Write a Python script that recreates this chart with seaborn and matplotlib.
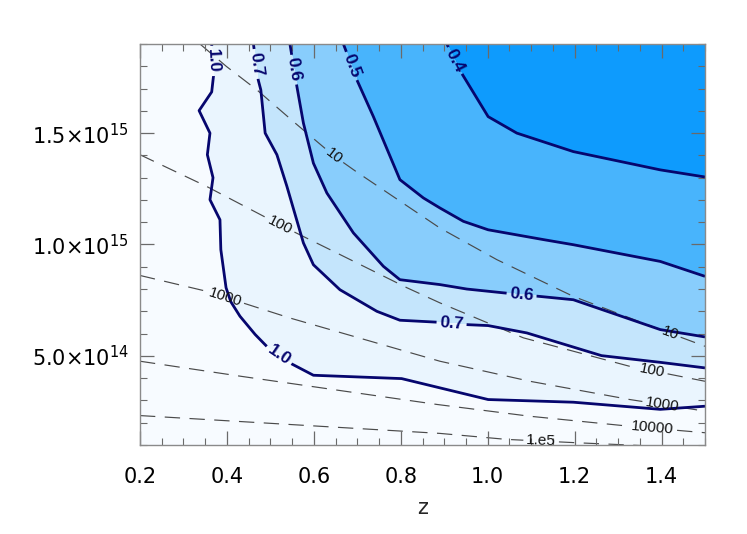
import numpy as np
import matplotlib
matplotlib.use("Agg")
import matplotlib.pyplot as plt
from matplotlib.contour import ContourSet
from matplotlib.ticker import FixedLocator, FixedFormatter, MultipleLocator
import seaborn as sns

# ---------------- data (z, mass in units of 1e14) ----------------
UNIT = 1e14
z_range = [0.2, 1.5]
m_range = [1.0, 19.0]

# solid contour paths
c10_z = [0.365, 0.369, 0.365, 0.336, 0.361, 0.355, 0.368, 0.361, 0.384, 0.386, 0.398,
         0.409, 0.430, 0.465, 0.495, 0.549, 0.599, 0.802, 1.001, 1.197, 1.397, 1.5]
c10_m = [19.0, 17.54, 16.85, 16.01, 15.0, 14.03, 13.0, 12.01, 11.11, 9.77, 8.06,
         7.43, 6.78, 5.96, 5.36, 4.64, 4.13, 3.98, 3.04, 2.92, 2.60, 2.74]
c07_z = [0.461, 0.472, 0.478, 0.488, 0.515, 0.538, 0.576, 0.599, 0.660, 0.745, 0.798,
         0.886, 0.955, 1.001, 1.090, 1.262, 1.397, 1.5]
c07_m = [19.0, 17.39, 16.94, 15.0, 14.03, 12.61, 10.07, 9.09, 7.97, 7.0, 6.60,
         6.51, 6.40, 6.36, 6.03, 5.01, 4.71, 4.46]
c06_z = [0.545, 0.561, 0.576, 0.599, 0.630, 0.691, 0.760, 0.798, 0.890, 0.952, 1.036,
         1.197, 1.397, 1.5]
c06_m = [19.0, 17.09, 15.45, 13.65, 12.31, 10.52, 9.02, 8.42, 8.20, 8.0, 7.83,
         7.52, 6.18, 5.85]
c05_z = [0.668, 0.699, 0.737, 0.798, 0.852, 0.890, 0.944, 1.001, 1.128, 1.197, 1.397, 1.5]
c05_m = [19.0, 17.39, 15.74, 12.91, 12.09, 11.64, 11.04, 10.66, 10.22, 9.99, 9.24, 8.57]
c04_z = [0.906, 0.940, 1.001, 1.067, 1.197, 1.397, 1.5]
c04_m = [19.0, 17.69, 15.74, 15.0, 14.17, 13.35, 13.03]

solid_levels = [0.4, 0.5, 0.6, 0.7, 1.0]
solid_labels = ["0.4", "0.5", "0.6", "0.7", "1.0"]
fill_bounds = [0.3, 0.4, 0.5, 0.6, 0.7, 1.0, 1.5]
fill_colors = ["#0E9BFD", "#48B4FC", "#88CDFC", "#C4E5FC", "#EAF5FE", "#F7FBFF"]

# dashed (number count) contour paths
n10_z = [0.338, 0.399, 0.469, 0.557, 0.646, 0.699, 0.890, 1.021, 1.197, 1.397, 1.5]
n10_m = [19.0, 17.99, 16.94, 15.45, 13.98, 13.25, 10.74, 9.32, 7.67, 6.18, 5.43]
n100_z = [0.2, 0.353, 0.492, 0.553, 0.660, 0.814, 0.890, 1.082, 1.327, 1.5]
n100_m = [14.03, 12.61, 11.19, 10.58, 9.55, 8.06, 7.38, 5.81, 4.53, 3.86]
n1000_z = [0.2, 0.353, 0.545, 0.890, 1.097, 1.327, 1.5]
n1000_m = [8.61, 7.90, 6.70, 4.76, 3.86, 3.04, 2.52]
n1e4_z = [0.2, 0.430, 0.883, 1.097, 1.327, 1.5]
n1e4_m = [4.76, 4.09, 2.82, 2.29, 1.84, 1.55]
n1e5_z = [0.2, 0.890, 1.044, 1.205, 1.5]
n1e5_m = [2.32, 1.52, 1.25, 1.10, 0.85]

count_levels = [10, 100, 1000, 10000, 100000]
count_labels = ["10", "100", "1000", "10000", "1.e5"]

# label anchor points (z, mass/1e14)
solid_label_z = [0.368, 0.465, 0.552, 0.688, 0.923, 0.518, 1.078, 0.917]
solid_label_m = [18.24, 18.10, 17.84, 18.02, 18.24, 4.98, 7.75, 6.49]
count_label_z = [0.646, 1.417, 0.522, 1.378, 0.396, 1.401, 1.380, 1.123]
count_label_m = [13.98, 5.91, 10.84, 4.30, 7.66, 2.77, 1.74, 1.20]

xtick_vals = [0.2, 0.4, 0.6, 0.8, 1.0, 1.2, 1.4]
xtick_labels = ["0.2", "0.4", "0.6", "0.8", "1.0", "1.2", "1.4"]
ytick_vals = [5e14, 1e15, 1.5e15]
ytick_labels = ["5.0×10$^{14}$", "1.0×10$^{15}$", "1.5×10$^{15}$"]

# ---------------- style ----------------
sns.set_theme(style="ticks")
plt.rcParams["font.family"] = ["DejaVu Sans"]
plt.rcParams["mathtext.fontset"] = "dejavusans"

fig = plt.figure(figsize=(7.47, 5.34), dpi=100)
ax = fig.add_axes([0.1874, 0.1667, 0.7564, 0.7509])
ax.set_facecolor("white")
ax.set_axisbelow(False)


def path(z, m):
    return np.column_stack([np.asarray(z, float), np.asarray(m, float) * UNIT])


p10, p07, p06, p05, p04 = (path(c10_z, c10_m), path(c07_z, c07_m), path(c06_z, c06_m),
                           path(c05_z, c05_m), path(c04_z, c04_m))
zmin, zmax = z_range
mmin, mmax = m_range[0] * UNIT, m_range[1] * UNIT

fill_segs = [
    [np.vstack([p04, [[zmax, mmax]]])],
    [np.vstack([p05, p04[::-1]])],
    [np.vstack([p06, p05[::-1]])],
    [np.vstack([p07, p06[::-1]])],
    [np.vstack([p10, p07[::-1]])],
    [np.vstack([p10, [[zmax, mmin], [zmin, mmin], [zmin, mmax]]])],
]
ContourSet(ax, fill_bounds, fill_segs, filled=True, colors=fill_colors, zorder=1)

cs_count = ContourSet(ax, count_levels,
                      [[path(n10_z, n10_m)], [path(n100_z, n100_m)], [path(n1000_z, n1000_m)],
                       [path(n1e4_z, n1e4_m)], [path(n1e5_z, n1e5_m)]],
                      colors="#4a4a4a", linewidths=0.85,
                      linestyles=[(0, (13, 8))] * 5, zorder=2)

cs_solid = ContourSet(ax, solid_levels, [[p04], [p05], [p06], [p07], [p10]],
                      colors="#06066e", linewidths=2.0, zorder=3)

ax.set_xlim(z_range)
ax.set_ylim(mmin, mmax)

with plt.rc_context({"font.family": ["Liberation Sans"], "font.weight": "bold"}):
    ax.clabel(cs_solid, inline=True, inline_spacing=3, fontsize=12.5,
              fmt=dict(zip(solid_levels, solid_labels)),
              manual=list(zip(solid_label_z, np.array(solid_label_m) * UNIT)))
with plt.rc_context({"font.family": ["Liberation Sans"]}):
    ax.clabel(cs_count, inline=True, inline_spacing=3, fontsize=11,
              fmt=dict(zip(count_levels, count_labels)), colors="#111111",
              manual=list(zip(count_label_z, np.array(count_label_m) * UNIT)))

ax.xaxis.set_major_locator(FixedLocator(xtick_vals))
ax.xaxis.set_major_formatter(FixedFormatter(xtick_labels))
ax.xaxis.set_minor_locator(MultipleLocator(0.05))
ax.yaxis.set_major_locator(FixedLocator(ytick_vals))
ax.yaxis.set_major_formatter(FixedFormatter(ytick_labels))
ax.yaxis.set_minor_locator(MultipleLocator(1e14))

ax.tick_params(which="both", direction="in", top=True, right=True,
               color="#6a6a6a", labelcolor="black", labelsize=15)
ax.tick_params(which="major", length=10, width=0.9)
ax.tick_params(which="minor", length=5, width=0.8)
ax.tick_params(axis="x", which="major", pad=16)
ax.tick_params(axis="y", which="major", pad=8)
for s in ax.spines.values():
    s.set_color("#8a8a8a")
    s.set_linewidth(1.0)
    s.set_zorder(5)

ax.set_xlabel("z", fontsize=15, labelpad=8)

fig.savefig("out.png", dpi=100)
